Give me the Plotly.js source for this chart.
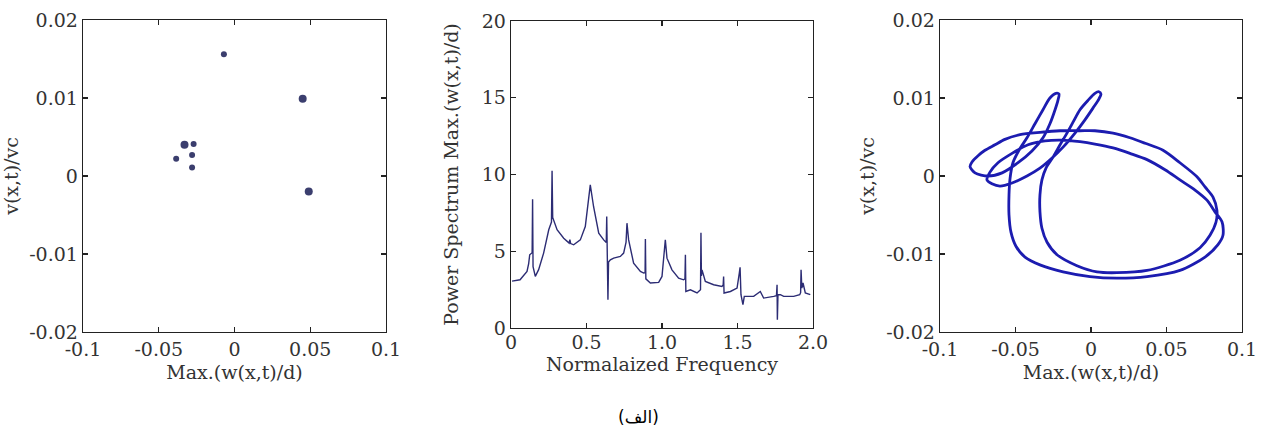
<!DOCTYPE html>
<html>
<head>
<meta charset="utf-8">
<script src="https://cdn.plot.ly/plotly-3.0.1.min.js"></script>
<style>html,body{margin:0;padding:0;background:#fff;}#chart{width:1264px;height:430px;}</style>
</head>
<body>
<div id="chart"></div>
<script>
// ---- Left panel: Poincaré-type points ----
var poincareLargeX = [-0.033, 0.045, 0.049];
var poincareLargeY = [0.0040, 0.0099, -0.0020];
var poincareSmallX = [-0.007, -0.027, -0.028, -0.0385, -0.028];
var poincareSmallY = [0.0156, 0.0041, 0.0027, 0.0022, 0.0011];

// ---- Middle panel: power spectrum ----
var freq = [0.007,0.06,0.106,0.117,0.124,0.14,0.143,0.146,0.161,0.183,0.216,0.238,0.25,0.268,0.272,0.276,0.283,0.305,0.349,0.385,0.39,0.395,0.415,0.459,0.492,0.514,0.525,0.547,0.581,0.614,0.631,0.634,0.637,0.642,0.646,0.658,0.68,0.724,0.746,0.762,0.768,0.779,0.812,0.857,0.879,0.888,0.89,0.893,0.923,0.978,1.0,1.011,1.022,1.033,1.066,1.11,1.143,1.152,1.155,1.158,1.188,1.232,1.255,1.258,1.261,1.265,1.287,1.342,1.397,1.405,1.408,1.411,1.453,1.497,1.512,1.517,1.523,1.536,1.545,1.552,1.607,1.651,1.673,1.74,1.758,1.762,1.764,1.768,1.784,1.806,1.872,1.912,1.918,1.921,1.926,1.934,1.949,1.982];
var power = [3.05,3.14,3.68,4.2,4.77,4.9,8.39,4.0,3.36,3.8,4.88,5.96,6.4,6.9,10.25,7.2,7.0,6.4,5.85,5.53,5.75,5.5,5.42,5.74,6.61,8.34,9.32,7.9,6.18,5.74,5.57,7.26,5.5,1.84,4.3,4.44,4.55,4.66,4.88,5.6,6.83,5.74,4.22,3.68,3.58,3.6,5.8,3.2,2.93,2.97,3.36,4.44,5.74,4.55,3.79,3.25,3.14,3.2,4.77,2.38,2.49,2.28,2.5,6.2,3.4,3.79,3.03,2.82,2.71,2.8,3.36,2.28,2.38,2.6,3.58,3.95,2.17,1.52,2.06,2.06,2.06,2.38,1.95,2.06,2.1,2.82,0.54,2.17,2.17,2.06,2.06,2.17,2.3,3.79,2.6,2.93,2.28,2.17];

// ---- Right panel: phase portrait (traced orbit, two passes) ----
var orbitX = [-0.0801,-0.0768,-0.0682,-0.0589,-0.0483,-0.0391,-0.0318,-0.0272,-0.0238,-0.0219,-0.0212,
  -0.0232,-0.0272,-0.0318,-0.0371,-0.0424,-0.0477,-0.0517,-0.0536,-0.0543,-0.0543,-0.0530,-0.0497,-0.0437,-0.0338,
  -0.0185,-0.0007,0.0172,0.0371,0.0589,0.0755,0.0841,0.0874,0.0868,0.0821,0.0768,0.0689,0.0589,0.0490,0.0371,
  0.0258,0.0146,0.0026,-0.0073,-0.0192,-0.0305,-0.0417,-0.0523,-0.0616,-0.0669,-0.0689,
  -0.0656,-0.0603,-0.0523,-0.0424,-0.0338,-0.0258,-0.0185,-0.0106,-0.0040,0.0013,0.0053,0.0066,
  0.0053,0.0026,-0.0020,-0.0073,-0.0119,-0.0159,-0.0205,-0.0252,-0.0298,-0.0325,-0.0338,-0.0338,-0.0325,-0.0291,
  -0.0225,-0.0093,0.0040,0.0172,0.0371,0.0589,0.0722,0.0788,0.0828,0.0834,0.0808,0.0755,0.0702,0.0589,0.0477,
  0.0358,0.0258,0.0146,0.0026,-0.0073,-0.0205,-0.0338,-0.0470,-0.0570,-0.0636,-0.0702,-0.0748,-0.0788,-0.0801];
var orbitY = [0.0012,0.0004,0.0000,0.0004,0.0017,0.0032,0.0049,0.0067,0.0085,0.0097,0.0105,
  0.0106,0.0100,0.0085,0.0067,0.0049,0.0033,0.0017,-0.0003,-0.0024,-0.0050,-0.0072,-0.0090,-0.0104,-0.0114,
  -0.0123,-0.0129,-0.0131,-0.0129,-0.0121,-0.0104,-0.0088,-0.0076,-0.0059,-0.0046,-0.0031,-0.0018,-0.0005,0.0008,0.0021,
  0.0029,0.0036,0.0041,0.0044,0.0046,0.0045,0.0040,0.0029,0.0017,0.0005,-0.0005,
  -0.0010,-0.0013,-0.0009,0.0000,0.0010,0.0023,0.0037,0.0055,0.0072,0.0087,0.0099,0.0105,
  0.0108,0.0106,0.0097,0.0085,0.0069,0.0055,0.0040,0.0024,0.0010,-0.0005,-0.0024,-0.0046,-0.0067,-0.0085,
  -0.0101,-0.0115,-0.0123,-0.0124,-0.0121,-0.0108,-0.0092,-0.0076,-0.0059,-0.0044,-0.0027,-0.0014,-0.0001,0.0017,0.0033,
  0.0042,0.0049,0.0055,0.0058,0.0058,0.0058,0.0056,0.0053,0.0047,0.0040,0.0033,0.0026,0.0018,0.0012];

var serif = 'DejaVu Serif, Liberation Serif, serif';
var tickFont = {family: serif, size: 19, color: '#333'};
var titleFont = {family: serif, size: 19, color: '#333'};

function axisBase(extra) {
  var a = {
    showline: true, mirror: 'ticks', linecolor: '#222', linewidth: 1.3,
    ticks: 'inside', ticklen: 5, tickwidth: 1.2, tickcolor: '#222',
    showgrid: false, zeroline: false, tickfont: tickFont, automargin: false, fixedrange: true
  };
  for (var k in extra) a[k] = extra[k];
  return a;
}

var tvSmall = [-0.1, -0.05, 0, 0.05, 0.1];
var ttSmall = ['-0.1', '-0.05', '0', '0.05', '0.1'];
var tvV = [-0.02, -0.01, 0, 0.01, 0.02];
var ttV = ['-0.02', '-0.01', '0', '0.01', '0.02'];
var tvF = [0, 0.5, 1, 1.5, 2];
var ttF = ['0', '0.5', '1.0', '1.5', '2.0'];
var tvP = [0, 5, 10, 15, 20];

var yDomLR = [1 - 332/430, 1 - 20/430];
var yDomM = [1 - 328/430, 1 - 21/430];

var data = [
  {x: poincareLargeX, y: poincareLargeY, type: 'scatter', mode: 'markers', xaxis: 'x', yaxis: 'y',
   marker: {color: '#3b3e6e', size: 8, symbol: 'circle'}, showlegend: false},
  {x: poincareSmallX, y: poincareSmallY, type: 'scatter', mode: 'markers', xaxis: 'x', yaxis: 'y',
   marker: {color: '#3b3e6e', size: 6, symbol: 'circle'}, showlegend: false},
  {x: freq, y: power, type: 'scatter', mode: 'lines', xaxis: 'x2', yaxis: 'y2',
   line: {color: '#2c2c74', width: 1.4}, showlegend: false},
  {x: orbitX, y: orbitY, type: 'scatter', mode: 'lines', xaxis: 'x3', yaxis: 'y3',
   line: {color: '#1c1cb0', width: 2.8, shape: 'spline', smoothing: 0.8}, showlegend: false}
];

var layout = {
  width: 1264, height: 430,
  margin: {l: 0, r: 0, t: 0, b: 0},
  paper_bgcolor: '#fff', plot_bgcolor: '#fff',
  showlegend: false,
  xaxis: axisBase({domain: [83/1264, 386/1264], range: [-0.1, 0.1], anchor: 'y', tickvals: tvSmall, ticktext: ttSmall,
    title: {text: 'Max.(w(x,t)/d)', font: titleFont, standoff: 6}}),
  yaxis: axisBase({domain: yDomLR, range: [-0.02, 0.02], anchor: 'x', tickvals: tvV, ticktext: ttV,
    title: {text: 'v(x,t)/vc', font: titleFont, standoff: 6}}),
  xaxis2: axisBase({domain: [511/1264, 813/1264], range: [0, 2], anchor: 'y2', tickvals: tvF, ticktext: ttF,
    ticklabelstandoff: -3,
    title: {text: 'Normalaized Frequency', font: titleFont, standoff: 0}}),
  yaxis2: axisBase({domain: yDomM, range: [0, 20], anchor: 'x2', tickvals: tvP,
    title: {text: 'Power Spectrum Max.(w(x,t)/d)', font: titleFont, standoff: 18}}),
  xaxis3: axisBase({domain: [940/1264, 1242/1264], range: [-0.1, 0.1], anchor: 'y3', tickvals: tvSmall, ticktext: ttSmall,
    title: {text: 'Max.(w(x,t)/d)', font: titleFont, standoff: 6}}),
  yaxis3: axisBase({domain: yDomLR, range: [-0.02, 0.02], anchor: 'x3', tickvals: tvV, ticktext: ttV,
    title: {text: 'v(x,t)/vc', font: titleFont, standoff: 6}}),
  annotations: [
    {text: '(الف)', xref: 'paper', yref: 'paper', x: 638/1264, y: 1 - 417/430, xanchor: 'center', yanchor: 'middle',
     showarrow: false, font: {family: 'DejaVu Sans, Noto Sans, sans-serif', size: 17, color: '#000'}}
  ]
};

Plotly.newPlot('chart', data, layout, {displayModeBar: false, staticPlot: true});
</script>
</body>
</html>
